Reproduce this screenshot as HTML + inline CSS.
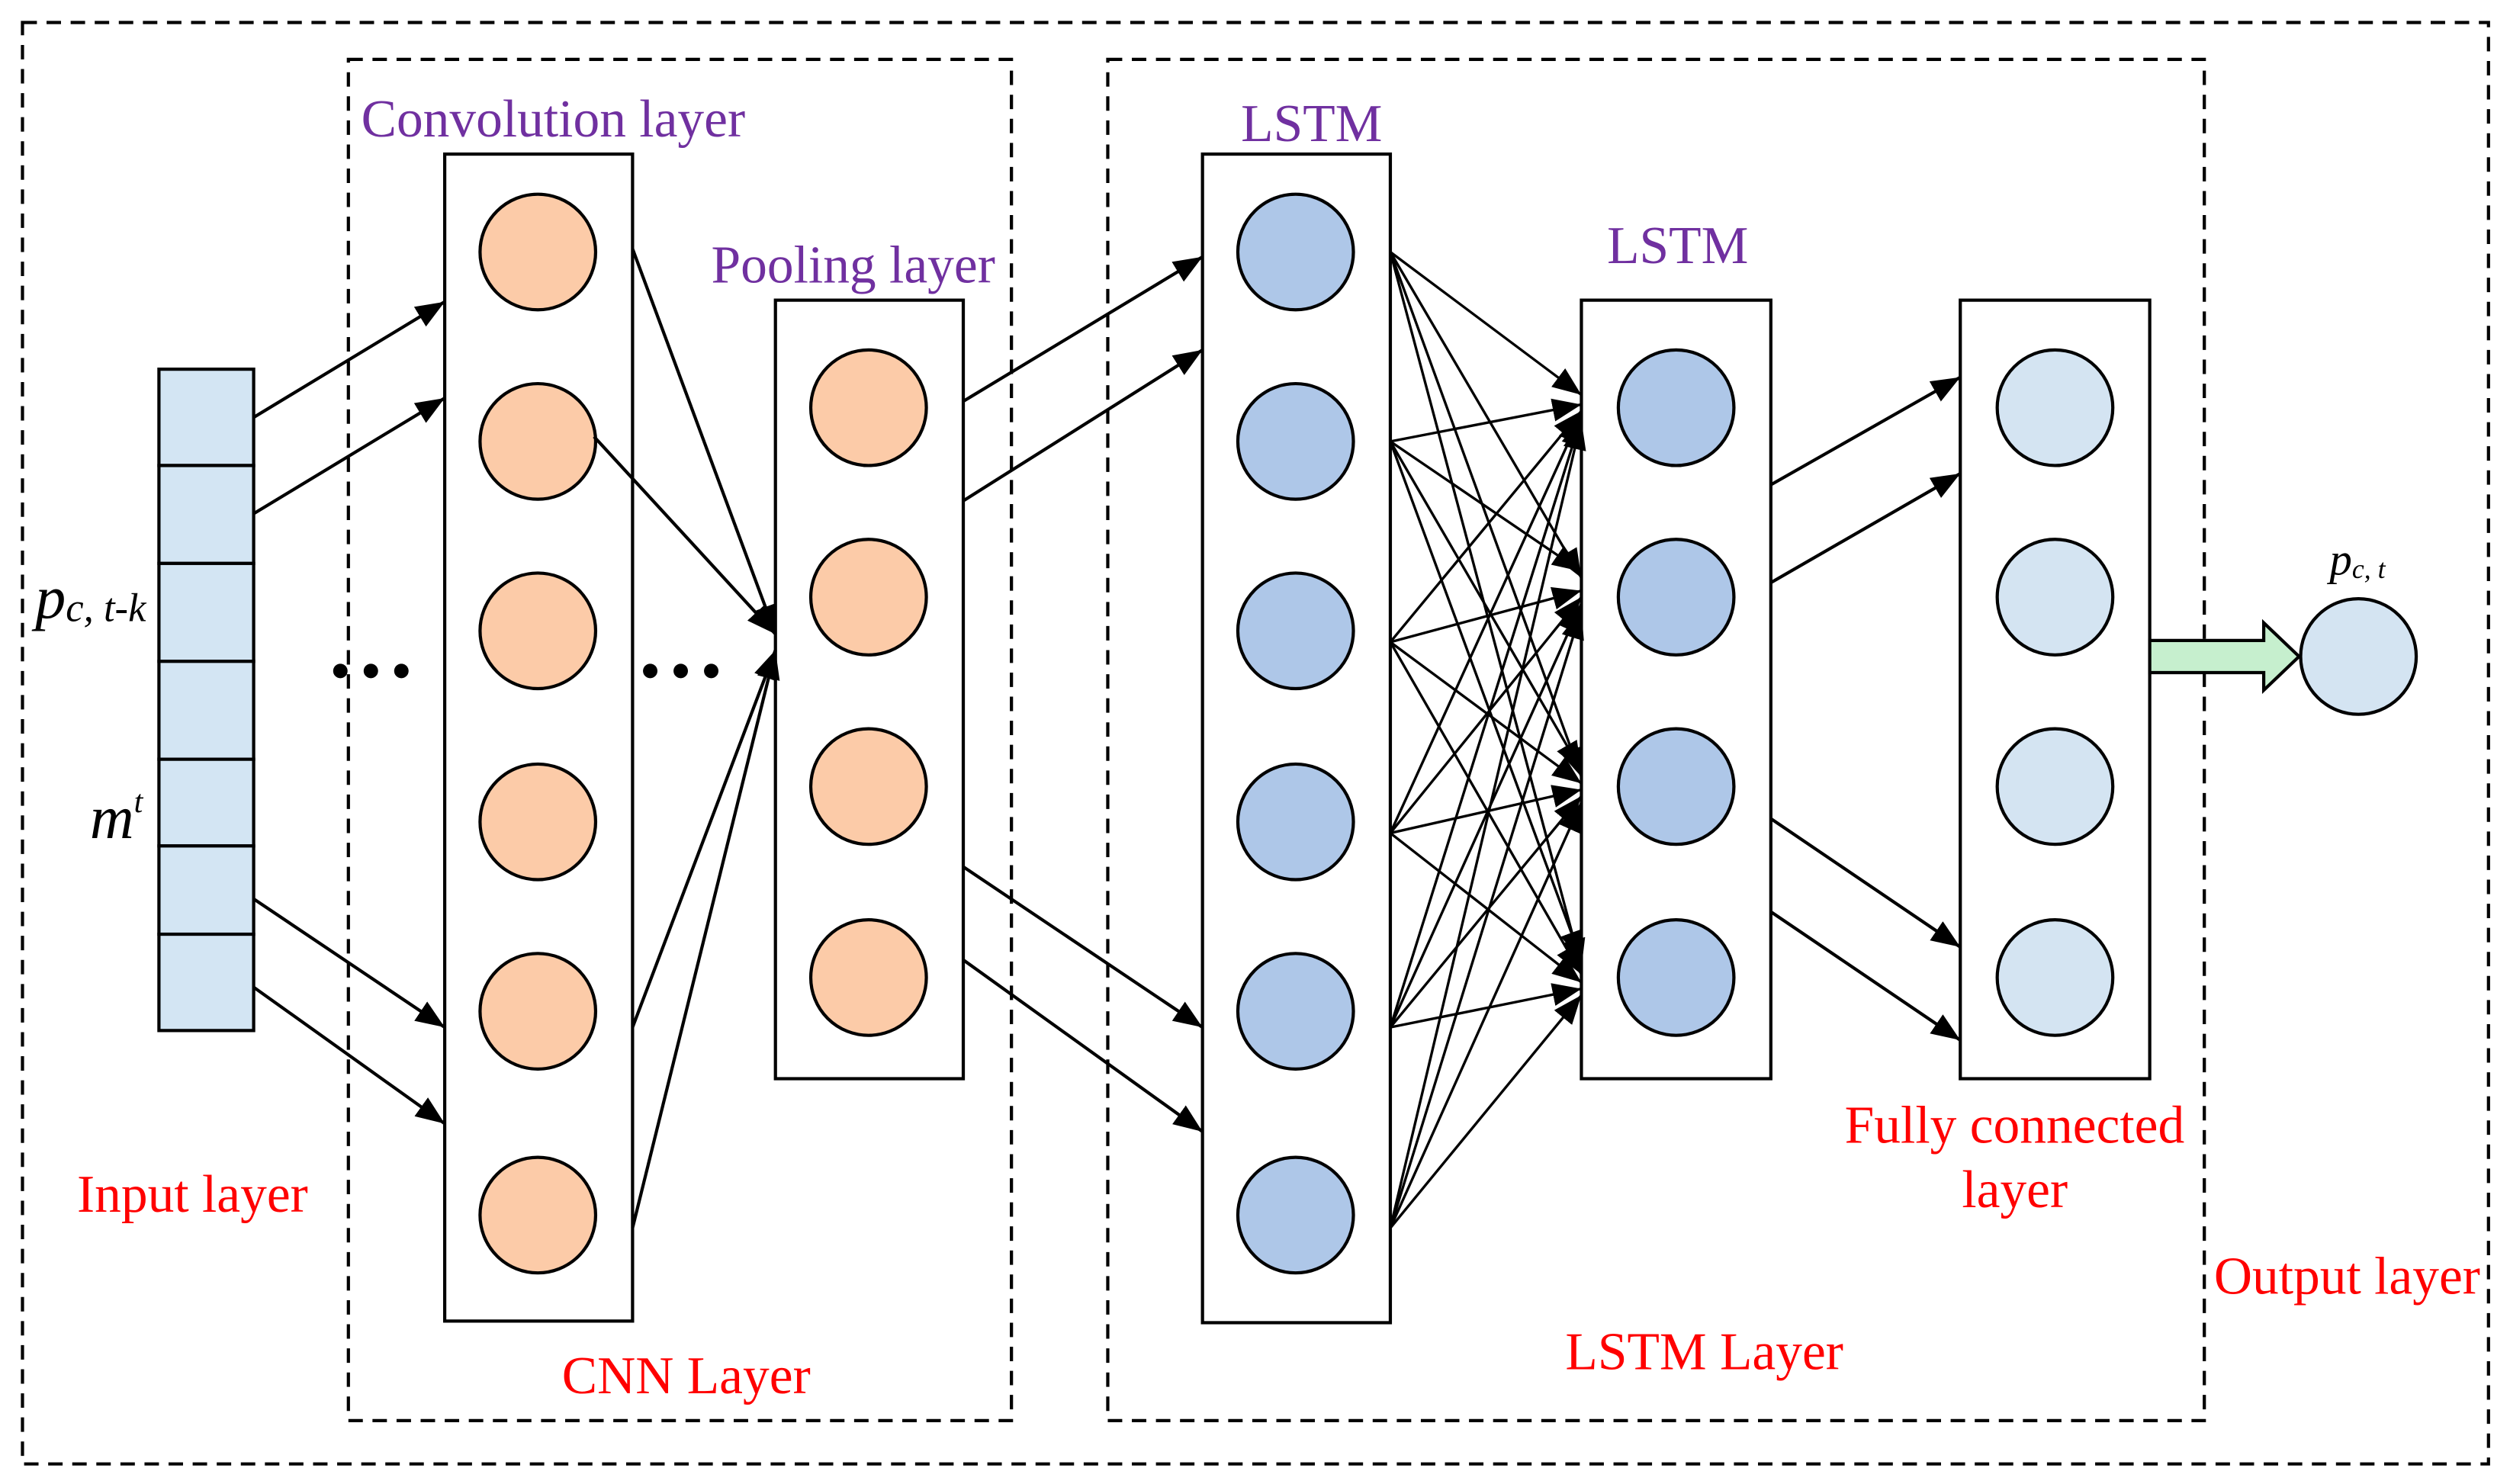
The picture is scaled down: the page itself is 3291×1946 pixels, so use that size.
<!DOCTYPE html>
<html><head><meta charset="utf-8"><style>
html,body{margin:0;padding:0;background:#fff;}
svg{display:block;}
.t{font-family:"Liberation Serif",serif;font-size:33px;}
.p{fill:#7030a0;}
.r{fill:#ff0000;}
</style></head><body>
<svg width="3291" height="1946" viewBox="0 0 1563.4 924.5" preserveAspectRatio="none" xmlns="http://www.w3.org/2000/svg">
<defs>
<marker id="b" viewBox="0 0 10 10" refX="10" refY="5" markerWidth="18" markerHeight="18" markerUnits="userSpaceOnUse" orient="auto"><path d="M0,1 L10,5 L0,9 z" fill="#000"/></marker>
</defs>
<g fill="none" stroke="#000" stroke-width="2" stroke-dasharray="9,6">
<rect x="14" y="14" width="1536" height="898"/>
<rect x="217" y="37" width="413" height="848"/>
<rect x="690" y="37" width="683" height="848"/>
</g>
<g fill="#d3e5f3" stroke="#000" stroke-width="2">
<rect x="99" y="230" width="59" height="60"/><rect x="99" y="290" width="59" height="61"/>
<rect x="99" y="351" width="59" height="61"/><rect x="99" y="412" width="59" height="61"/>
<rect x="99" y="473" width="59" height="54"/><rect x="99" y="527" width="59" height="55"/>
<rect x="99" y="582" width="59" height="60"/>
</g>
<g fill="#fff" stroke="#000" stroke-width="2">
<rect x="277" y="96" width="117" height="727"/>
<rect x="483" y="187" width="117" height="485"/>
<rect x="749" y="96" width="117" height="728"/>
<rect x="985" y="187" width="118" height="485"/>
<rect x="1221" y="187" width="118" height="485"/>
</g>
<g stroke="#000" stroke-width="2" fill="#fccba8">
<circle cx="335" cy="157" r="36"/><circle cx="335" cy="275" r="36"/><circle cx="335" cy="393" r="36"/>
<circle cx="335" cy="512" r="36"/><circle cx="335" cy="630" r="36"/><circle cx="335" cy="757" r="36"/>
<circle cx="541" cy="254" r="36"/><circle cx="541" cy="372" r="36"/><circle cx="541" cy="490" r="36"/><circle cx="541" cy="609" r="36"/>
</g>
<g stroke="#000" stroke-width="2" fill="#aec7e8">
<circle cx="807" cy="157" r="36"/><circle cx="807" cy="275" r="36"/><circle cx="807" cy="393" r="36"/>
<circle cx="807" cy="512" r="36"/><circle cx="807" cy="630" r="36"/><circle cx="807" cy="757" r="36"/>
<circle cx="1044" cy="254" r="36"/><circle cx="1044" cy="372" r="36"/><circle cx="1044" cy="490" r="36"/><circle cx="1044" cy="609" r="36"/>
</g>
<g stroke="#000" stroke-width="2" fill="#d4e4f2">
<circle cx="1280" cy="254" r="36"/><circle cx="1280" cy="372" r="36"/><circle cx="1280" cy="490" r="36"/><circle cx="1280" cy="609" r="36"/>
<circle cx="1469" cy="409" r="36"/>
</g>
<g stroke="#000" stroke-width="2" marker-end="url(#b)">
<line x1="158" y1="260" x2="277" y2="188"/><line x1="158" y1="320" x2="277" y2="248"/>
<line x1="158" y1="560" x2="277" y2="640"/><line x1="158" y1="615" x2="277" y2="700"/>
<line x1="394" y1="155" x2="483" y2="395"/><line x1="370" y1="272" x2="483" y2="395"/>
<line x1="394" y1="640" x2="483" y2="405"/><line x1="394" y1="765" x2="483" y2="405"/>
<line x1="600" y1="250" x2="749" y2="160"/><line x1="600" y1="312" x2="749" y2="218"/>
<line x1="600" y1="540" x2="749" y2="640"/><line x1="600" y1="598" x2="749" y2="705"/>
<line x1="1103" y1="302" x2="1221" y2="235"/><line x1="1103" y1="363" x2="1221" y2="295"/>
<line x1="1103" y1="510" x2="1221" y2="590"/><line x1="1103" y1="568" x2="1221" y2="648"/>
</g>
<g stroke="#000" stroke-width="1.6" marker-end="url(#b)">
<line x1="866" y1="157" x2="985" y2="246"/><line x1="866" y1="157" x2="985" y2="360"/><line x1="866" y1="157" x2="985" y2="484"/><line x1="866" y1="157" x2="985" y2="603"/>
<line x1="866" y1="275" x2="985" y2="252"/><line x1="866" y1="275" x2="985" y2="356"/><line x1="866" y1="275" x2="985" y2="480"/><line x1="866" y1="275" x2="985" y2="598"/>
<line x1="866" y1="400" x2="985" y2="256"/><line x1="866" y1="400" x2="985" y2="368"/><line x1="866" y1="400" x2="985" y2="488"/><line x1="866" y1="400" x2="985" y2="607"/>
<line x1="866" y1="519" x2="985" y2="258"/><line x1="866" y1="519" x2="985" y2="372"/><line x1="866" y1="519" x2="985" y2="492"/><line x1="866" y1="519" x2="985" y2="612"/>
<line x1="866" y1="640" x2="985" y2="260"/><line x1="866" y1="640" x2="985" y2="376"/><line x1="866" y1="640" x2="985" y2="496"/><line x1="866" y1="640" x2="985" y2="616"/>
<line x1="866" y1="765" x2="985" y2="262"/><line x1="866" y1="765" x2="985" y2="380"/><line x1="866" y1="765" x2="985" y2="500"/><line x1="866" y1="765" x2="985" y2="620"/>
</g>
<g fill="#000"><circle cx="212" cy="418" r="4.5"/><circle cx="231" cy="418" r="4.5"/><circle cx="250" cy="418" r="4.5"/>
<circle cx="405" cy="418" r="4.5"/><circle cx="424" cy="418" r="4.5"/><circle cx="443" cy="418" r="4.5"/></g>
<path d="M1339,399 L1410,399 L1410,388 L1432,409 L1410,430 L1410,419 L1339,419 z" fill="#c6efce" stroke="#000" stroke-width="2"/>
<text class="t p" x="225" y="85">Convolution layer</text>
<text class="t p" x="443" y="176">Pooling layer</text>
<text class="t p" x="773" y="88">LSTM</text>
<text class="t p" x="1001" y="164">LSTM</text>
<text class="t r" x="48" y="755">Input layer</text>
<text class="t r" x="350" y="868">CNN Layer</text>
<text class="t r" x="975" y="853">LSTM Layer</text>
<text class="t r" x="1149" y="712">Fully connected</text>
<text class="t r" x="1222" y="752">layer</text>
<text class="t r" x="1379" y="806">Output layer</text>
<text x="22" y="385" font-family="Liberation Serif,serif" font-style="italic" font-size="38">p<tspan font-size="25" dy="2">c, t-k</tspan></text>
<text x="56" y="522" font-family="Liberation Serif,serif" font-style="italic" font-size="38">m<tspan font-size="20" dy="-16">t</tspan></text>
<text x="1451" y="358" font-family="Liberation Serif,serif" font-style="italic" font-size="28">p<tspan font-size="17" dy="2">c, t</tspan></text>
</svg>
</body></html>
